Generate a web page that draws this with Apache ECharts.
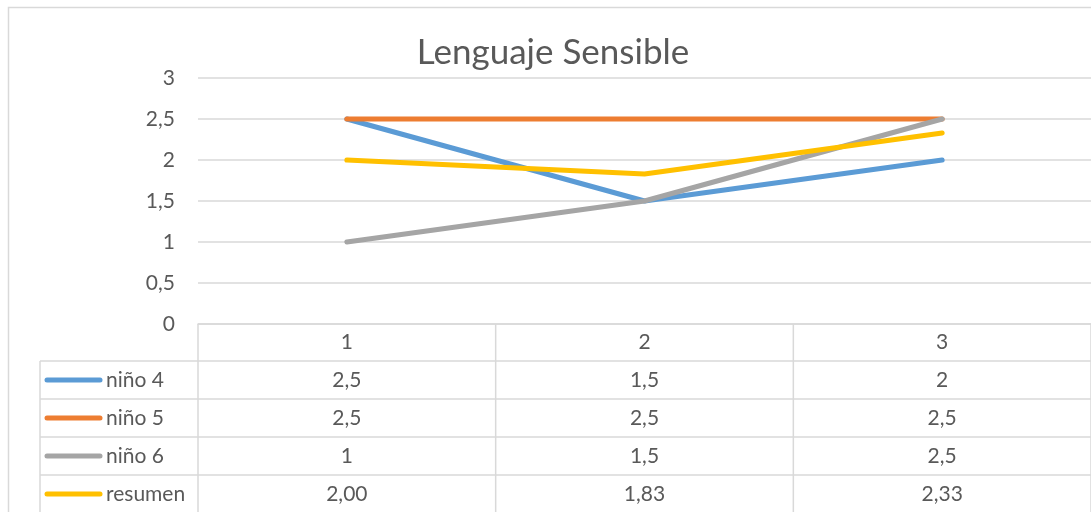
<!DOCTYPE html>
<html>
<head>
<meta charset="utf-8">
<script src="https://cdn.jsdelivr.net/npm/echarts@6/dist/echarts.min.js"></script>
<style>
html,body{margin:0;padding:0;background:#fff;}
#c{width:1091px;height:512px;}
</style>
</head>
<body>
<div id="c"></div>
<script>
var titleText = 'Lenguaje Sensible';
var categories = ['1', '2', '3'];
var seriesNames = ['niño 4', 'niño 5', 'niño 6', 'resumen'];
var nino4 = [2.5, 1.5, 2];
var nino5 = [2.5, 2.5, 2.5];
var nino6 = [1, 1.5, 2.5];
var resumen = [2.00, 1.83, 2.33];
var yTicks = ['0', '0,5', '1', '1,5', '2', '2,5', '3'];

var seriesData = [nino4, nino5, nino6, resumen];
var decimals = [null, null, null, 2];
var colors = ['#5B9BD5', '#ED7D31', '#A5A5A5', '#FFC000'];
var FONT = 'Lato, "Open Sans", "Noto Sans", sans-serif';
var TXT = '#595959';
var GRIDC = '#D9D9D9';
var FS = 21;

function fmt(v, d) {
  var s = (d == null) ? String(v) : v.toFixed(d);
  return s.replace('.', ',');
}

var chart = echarts.init(document.getElementById('c'), null, {renderer: 'canvas'});

var option = {
  animation: false,
  backgroundColor: '#fff',
  title: {
    text: titleText,
    left: 548, top: 30, textAlign: 'center',
    textStyle: {fontFamily: FONT, fontSize: 35, fontWeight: 'normal', color: TXT}
  },
  grid: {left: 198, top: 78, width: 898, height: 246, containLabel: false},
  xAxis: {
    type: 'category', data: categories, boundaryGap: true,
    axisLine: {show: true, lineStyle: {color: GRIDC, width: 1.5}},
    axisTick: {show: false},
    axisLabel: {color: TXT, fontFamily: FONT, fontSize: FS, margin: 8},
    splitLine: {show: false}
  },
  yAxis: {
    type: 'value', min: 0, max: 3, interval: 0.5,
    axisLine: {show: false}, axisTick: {show: false},
    axisLabel: {
      color: TXT, fontFamily: FONT, fontSize: FS, margin: 23,
      formatter: function (v) { return yTicks[Math.round(v / 0.5)]; }
    },
    splitLine: {lineStyle: {color: GRIDC, width: 1.5}}
  },
  series: seriesNames.map(function (n, i) {
    return {
      name: n, type: 'line', data: seriesData[i],
      symbol: 'none', smooth: false,
      lineStyle: {color: colors[i], width: 5, cap: 'round', join: 'round'},
      itemStyle: {color: colors[i]},
      z: 2 + i
    };
  })
};
chart.setOption(option);

// Build the data table below the plot from the axis scales
var c0 = chart.convertToPixel({xAxisIndex: 0}, 0);
var c1 = chart.convertToPixel({xAxisIndex: 0}, 1);
var colW = c1 - c0;
var y0 = chart.convertToPixel({yAxisIndex: 0}, 0);
var plotLeft = c0 - colW / 2;
var tableLeft = 40;
var headerH = 37;
var rowH = 38;
var g = [];
var lineStyle = {stroke: GRIDC, lineWidth: 1.5};
var nRows = seriesNames.length;
var bottom = y0 + headerH + rowH * nRows;

for (var r = 0; r <= nRows; r++) {
  var yy = y0 + headerH + r * rowH;
  g.push({type: 'line', shape: {x1: tableLeft, y1: yy, x2: 1200, y2: yy}, style: lineStyle, silent: true});
}
g.push({type: 'line', shape: {x1: tableLeft, y1: y0 + headerH, x2: tableLeft, y2: bottom + 10}, style: lineStyle});
for (var k = 0; k <= categories.length; k++) {
  var xx = plotLeft + k * colW;
  g.push({type: 'line', shape: {x1: xx, y1: y0, x2: xx, y2: bottom + 10}, style: lineStyle});
}
for (var s = 0; s < nRows; s++) {
  var cy = y0 + headerH + s * rowH + rowH / 2;
  g.push({type: 'line', shape: {x1: 47, y1: cy, x2: 100, y2: cy},
    style: {stroke: colors[s], lineWidth: 5, lineCap: 'round'}});
  g.push({type: 'text', x: 106, y: cy, style: {text: seriesNames[s], fill: TXT,
    font: FS + 'px ' + FONT, textAlign: 'left', textVerticalAlign: 'middle', verticalAlign: 'middle'}});
  for (var j = 0; j < categories.length; j++) {
    var cx = chart.convertToPixel({xAxisIndex: 0}, j);
    g.push({type: 'text', x: cx, y: cy, style: {text: fmt(seriesData[s][j], decimals[s]), fill: TXT,
      font: FS + 'px ' + FONT, textAlign: 'center', textVerticalAlign: 'middle', verticalAlign: 'middle'}});
  }
}
g.push({type: 'rect', shape: {x: 8.5, y: 7.5, width: 1200, height: 600},
  style: {fill: 'none', stroke: GRIDC, lineWidth: 1.5}, z: -1});

chart.setOption({graphic: g});
</script>
</body>
</html>
